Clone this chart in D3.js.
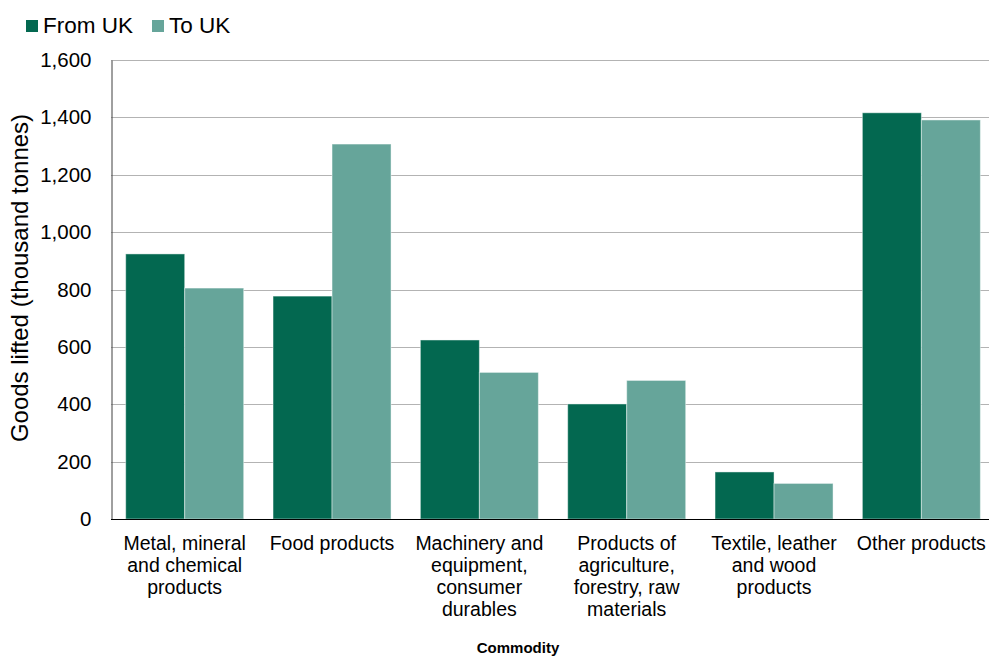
<!DOCTYPE html>
<html>
<head>
<meta charset="utf-8">
<script src="https://cdn.jsdelivr.net/npm/d3@7/dist/d3.min.js"></script>
<style>
  html, body { margin: 0; padding: 0; background: #fff; }
  svg { display: block; font-family: "Liberation Sans", Arial, sans-serif; }
</style>
</head>
<body>
<svg id="chart" width="989" height="657"></svg>
<script>
const categories = [
  ["Metal, mineral", "and chemical", "products"],
  ["Food products"],
  ["Machinery and", "equipment,", "consumer", "durables"],
  ["Products of", "agriculture,", "forestry, raw", "materials"],
  ["Textile, leather", "and wood", "products"],
  ["Other products"]
];
const seriesNames = ["From UK", "To UK"];
const fromUK = [924, 777, 624, 401, 164, 1416];
const toUK = [805, 1307, 511, 483, 124, 1391];
const yTicks = [0, 200, 400, 600, 800, 1000, 1200, 1400, 1600];
const colors = ["#036850", "#66a59a"];

const svg = d3.select("#chart");
const margin = { left: 111, right: 995, top: 60, bottom: 519 };

const catKeys = categories.map(c => c.join(" "));
const x0 = d3.scaleBand().domain(catKeys).range([margin.left, margin.right]).padding(0);
const x1 = d3.scaleBand().domain(seriesNames).range([14.7, 132.7]).padding(0);
const y = d3.scaleLinear().domain([0, 1600]).range([margin.bottom, margin.top]);

// gridlines
svg.append("g")
  .selectAll("line")
  .data(yTicks.filter(d => d > 0))
  .join("line")
  .attr("x1", margin.left).attr("x2", 989)
  .attr("y1", d => Math.round(y(d)) + 0.5).attr("y2", d => Math.round(y(d)) + 0.5)
  .attr("stroke", "#b3b3b3").attr("stroke-width", 1);

// bars
const data = catKeys.map((k, i) => ({ key: k, vals: [fromUK[i], toUK[i]] }));
const groups = svg.append("g").selectAll("g")
  .data(data).join("g")
  .attr("transform", d => `translate(${x0(d.key)},0)`);
groups.selectAll("rect")
  .data(d => d.vals.map((v, j) => ({ name: seriesNames[j], v, j })))
  .join("rect")
  .attr("x", d => x1(d.name))
  .attr("width", x1.bandwidth())
  .attr("y", d => y(d.v))
  .attr("height", d => y(0) - y(d.v))
  .attr("fill", d => colors[d.j])
  .attr("stroke", "rgba(255,255,255,0.45)")
  .attr("stroke-width", 1);

// y axis
const yAxis = d3.axisLeft(y).tickValues(yTicks).tickFormat(d3.format(",")).tickSize(0).tickPadding(20);
const yg = svg.append("g").attr("transform", `translate(${margin.left + 0.5},0)`).call(yAxis);
yg.select(".domain").attr("stroke", "#404040").attr("stroke-width", 1);
yg.selectAll("text").attr("font-size", "20.5px").attr("fill", "#000").attr("font-family", "Liberation Sans, Arial, sans-serif");

// x baseline
svg.append("line")
  .attr("x1", margin.left).attr("x2", 989)
  .attr("y1", y(0) + 0.5).attr("y2", y(0) + 0.5)
  .attr("stroke", "#000").attr("stroke-width", 1.2);

// category labels
const xl = svg.append("g").selectAll("text")
  .data(categories).join("text")
  .attr("x", (d, i) => x0(catKeys[i]) + x0.bandwidth() / 2)
  .attr("y", 550)
  .attr("text-anchor", "middle")
  .attr("font-size", "19.5px")
  .attr("fill", "#000");
xl.selectAll("tspan")
  .data(d => d).join("tspan")
  .attr("x", function() { return this.parentNode.getAttribute("x"); })
  .attr("dy", (d, i) => i === 0 ? 0 : 22)
  .text(d => d);

// axis titles
svg.append("text")
  .attr("x", 518).attr("y", 653)
  .attr("text-anchor", "middle")
  .attr("font-size", "15px").attr("font-weight", "bold")
  .text("Commodity");

svg.append("text")
  .attr("transform", "translate(28,278) rotate(-90)")
  .attr("text-anchor", "middle")
  .attr("font-size", "24px")
  .text("Goods lifted (thousand tonnes)");

// legend
const legendX = [26, 152];
const lg = svg.append("g").selectAll("g")
  .data(seriesNames).join("g")
  .attr("transform", (d, i) => `translate(${legendX[i]},20)`);
lg.append("rect").attr("width", 12).attr("height", 12).attr("fill", (d, i) => colors[i]);
lg.append("text").attr("x", 17).attr("y", 12.5).attr("font-size", "22.5px").text(d => d);
</script>
</body>
</html>
